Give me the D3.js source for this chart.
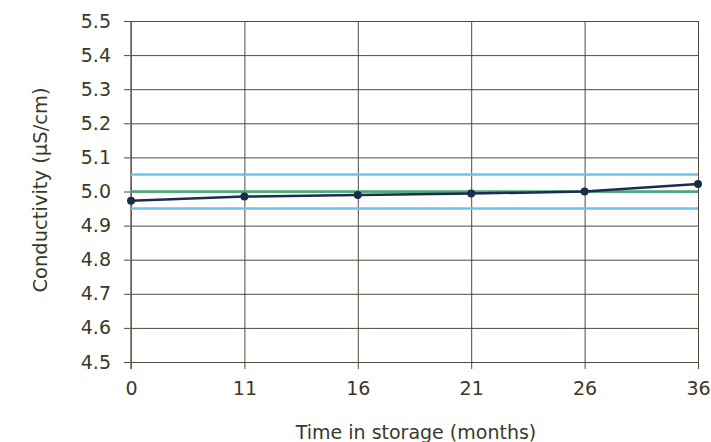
<!DOCTYPE html>
<html>
<head>
<meta charset="utf-8">
<script src="https://cdn.jsdelivr.net/npm/d3@7"></script>
<style>
  body { margin: 0; background: #fff; }
  text { font-family: "DejaVu Sans", sans-serif; fill: #3b3829; }
</style>
</head>
<body>
<script>
// chart values
var months = ["0", "11", "16", "21", "26", "36"];
var conductivity = [4.973, 4.985, 4.99, 4.994, 5.0, 5.022];
var yTicks = [4.5, 4.6, 4.7, 4.8, 4.9, 5.0, 5.1, 5.2, 5.3, 5.4, 5.5];
var targetValue = 5.0;
var limits = [4.95, 5.05];

var width = 711, height = 442;
var margin = {left: 131, right: 13, top: 21, bottom: 80};

var svg = d3.select("body").append("svg")
    .attr("width", width)
    .attr("height", height);

var x = d3.scalePoint()
    .domain(months)
    .range([margin.left, width - margin.right]);

var y = d3.scaleLinear()
    .domain([4.5, 5.5])
    .range([height - margin.bottom, margin.top]);

var gridColor = "#4e4a3e";

// horizontal grid + y ticks
svg.append("g")
    .attr("transform", "translate(" + margin.left + ",0)")
    .call(d3.axisLeft(y).tickValues(yTicks).tickFormat(d3.format(".1f"))
        .tickSize(-(width - margin.right - margin.left)).tickPadding(20))
    .call(function (g) {
      g.select(".domain").remove();
      g.selectAll(".tick line").attr("stroke", gridColor).attr("x1", -7);
      g.selectAll(".tick text").style("font-size", "19px").style("font-family", "DejaVu Sans");
    });

// vertical grid + x ticks
svg.append("g")
    .attr("transform", "translate(0," + (height - margin.bottom) + ")")
    .call(d3.axisBottom(x).tickSize(-(height - margin.bottom - margin.top)).tickPadding(20))
    .call(function (g) {
      g.select(".domain").remove();
      g.selectAll(".tick line").attr("stroke", gridColor).attr("y1", 7);
      g.selectAll(".tick text").style("font-size", "19px").style("font-family", "DejaVu Sans");
    });

// left axis line a bit greyer/thicker
svg.append("line")
    .attr("x1", margin.left).attr("x2", margin.left)
    .attr("y1", margin.top).attr("y2", height - margin.bottom + 7)
    .attr("stroke", "#6b665a").attr("stroke-width", 1.5);

// spec limits
svg.selectAll("line.limit")
    .data(limits)
    .enter().append("line")
    .attr("class", "limit")
    .attr("x1", margin.left).attr("x2", width - margin.right)
    .attr("y1", function (d) { return y(d); })
    .attr("y2", function (d) { return y(d); })
    .attr("stroke", "#6cc3ee").attr("stroke-width", 2.5);

// target
svg.append("line")
    .attr("x1", margin.left).attr("x2", width - margin.right)
    .attr("y1", y(targetValue)).attr("y2", y(targetValue))
    .attr("stroke", "#3fae72").attr("stroke-width", 2.5);

// data line
var line = d3.line()
    .x(function (d, i) { return x(months[i]); })
    .y(function (d) { return y(d); });

svg.append("path")
    .datum(conductivity)
    .attr("fill", "none")
    .attr("stroke", "#1e2b4d")
    .attr("stroke-width", 2.5)
    .attr("d", line);

svg.selectAll("circle.pt")
    .data(conductivity)
    .enter().append("circle")
    .attr("class", "pt")
    .attr("cx", function (d, i) { return x(months[i]); })
    .attr("cy", function (d) { return y(d); })
    .attr("r", 4)
    .attr("fill", "#1e2b4d");

// axis titles
svg.append("text")
    .attr("x", 416)
    .attr("y", 439)
    .attr("text-anchor", "middle")
    .style("font-size", "19px")
    .text("Time in storage (months)");

svg.append("text")
    .attr("transform", "translate(47,190) rotate(-90)")
    .attr("text-anchor", "middle")
    .style("font-size", "19.5px")
    .text("Conductivity (µS/cm)");
</script>
</body>
</html>
